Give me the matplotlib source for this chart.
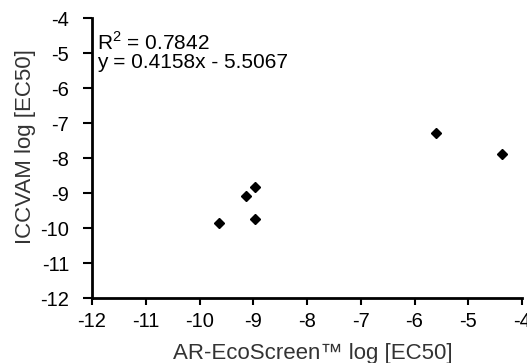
import matplotlib
matplotlib.use("agg")
import matplotlib.pyplot as plt

# AR-EcoScreen vs ICCVAM log EC50 values
ar_ecoscreen = [-9.64, -9.14, -8.96, -8.96, -5.60, -4.38]
iccvam = [-9.85, -9.08, -8.83, -9.72, -7.27, -7.87]

x_ticks = list(range(-12, -3))
y_ticks = list(range(-12, -3))

plt.rcParams["font.family"] = ["Liberation Sans", "DejaVu Sans"]
plt.rcParams["axes.unicode_minus"] = False
plt.rcParams["mathtext.fontset"] = "custom"
plt.rcParams["mathtext.rm"] = "Liberation Sans"

fig = plt.figure(figsize=(5.27, 3.63), dpi=100)
ax = fig.add_axes([0.1746, 0.178, 0.816, 0.772])

ax.plot(ar_ecoscreen, iccvam, "kD", markersize=5.5, linestyle="none")

ax.set_xlim(-12, -4)
ax.set_ylim(-12, -4)
ax.set_xticks(x_ticks)
ax.set_yticks(y_ticks)
ax.tick_params(axis="x", direction="out", length=5, width=1.5, labelsize=14.5, pad=5)
ax.tick_params(axis="y", direction="out", length=6.5, width=1.5, labelsize=14.5, pad=10)

for s in ["top", "right"]:
    ax.spines[s].set_visible(False)
for s in ["left", "bottom"]:
    ax.spines[s].set_linewidth(2)

ax.set_xlabel("AR-EcoScreen\u2122 log [EC50]", fontsize=16, color="#333333", va="baseline")
ax.set_ylabel("ICCVAM log [EC50]", fontsize=16, color="#333333")
ax.xaxis.set_label_coords(0.513, -0.215)
ax.yaxis.set_label_coords(-0.130, 0.543)

ax.text(-11.9, -4.90, r"R$^{\rm 2}$ = 0.7842", fontsize=15, va="baseline")
ax.text(-11.9, -5.42, "y = 0.4158x - 5.5067", fontsize=15, va="baseline")

fig.savefig("out.png", dpi=100)
